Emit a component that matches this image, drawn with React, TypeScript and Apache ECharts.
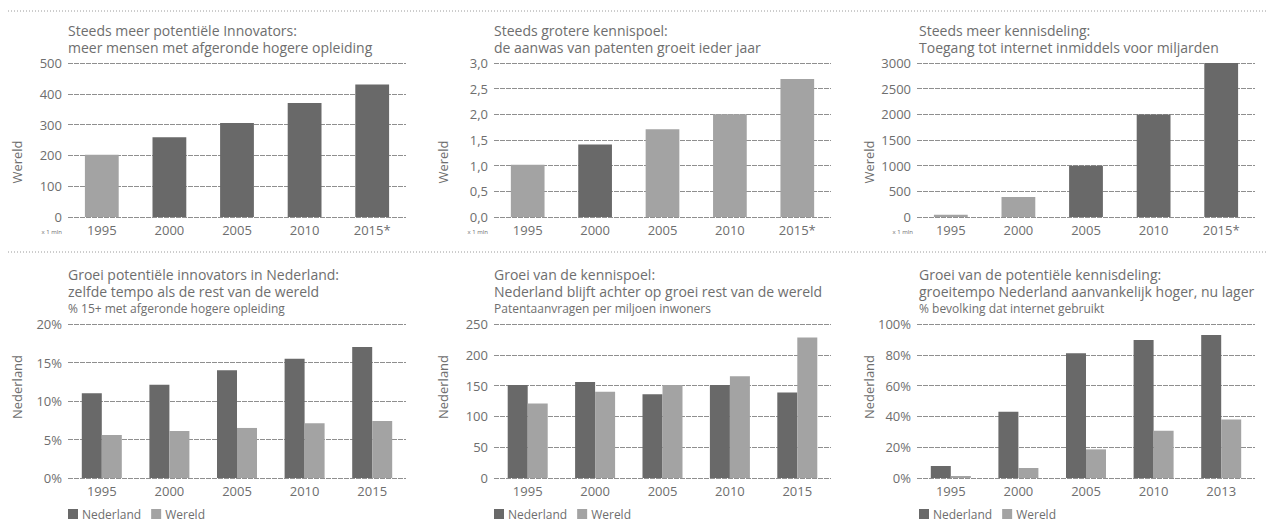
import React, { useEffect, useRef } from "react";
import * as echarts from "echarts";

// ---- data ----
const yearsTop = ["1995", "2000", "2005", "2010", "2015*"];
const yearsBottom = ["1995", "2000", "2005", "2010", "2015"];
const yearsInternet = ["1995", "2000", "2005", "2010", "2013"];

const innovatorsWorld = [202, 259, 305, 370, 430];
const patentsWorld = [1.02, 1.41, 1.71, 2.0, 2.69];
const internetWorld = [45, 390, 1000, 1995, 3000];

const eduNL = [11.0, 12.1, 14.0, 15.5, 17.0];
const eduWorld = [5.6, 6.1, 6.5, 7.1, 7.4];
const patNL = [151, 156, 136, 151, 139];
const patWorld = [121, 140, 151, 165, 228];
const netNL = [7.8, 43, 81, 89.6, 92.9];
const netWorld = [1.3, 6.5, 18.6, 30.7, 38];

const titlesTop = [
  "Steeds meer potentiële Innovators:\nmeer mensen met afgeronde hogere opleiding",
  "Steeds grotere kennispoel:\nde aanwas van patenten groeit ieder jaar",
  "Steeds meer kennisdeling:\nToegang tot internet inmiddels voor miljarden",
];
const titlesBottom = [
  "Groei potentiële innovators in Nederland:\nzelfde tempo als de rest van de wereld",
  "Groei van de kennispoel:\nNederland blijft achter op groei rest van de wereld",
  "Groei van de potentiële kennisdeling:\ngroeitempo Nederland aanvankelijk hoger, nu lager",
];
const subtitlesBottom = [
  "% 15+ met afgeronde hogere opleiding",
  "Patentaanvragen per miljoen inwoners",
  "% bevolking dat internet gebruikt",
];

const DARK = "#696969";
const LIGHT = "#a3a3a3";
const TEXT = "#6e6e6e";
const FONT = "'Open Sans', 'Noto Sans', sans-serif";

export default function App() {
  const ref = useRef<HTMLDivElement>(null);
  useEffect(() => {
    if (!ref.current) return;
    const chart = echarts.init(ref.current, undefined, { renderer: "svg" });

    const lefts = [68, 494, 917];
    const widths = [338, 337, 338];
    const topY = 63;
    const botY = 324;
    const h = 154;

    const grids: any[] = [];
    for (let r = 0; r < 2; r++) {
      for (let c = 0; c < 3; c++) {
        grids.push({ left: lefts[c], top: r === 0 ? topY : botY, width: widths[c], height: h, containLabel: false });
      }
    }

    const xCats = [yearsTop, yearsTop, yearsTop, yearsBottom, yearsBottom, yearsInternet];
    const xAxes = xCats.map((cats, i) => ({
      type: "category",
      gridIndex: i,
      data: cats,
      axisLine: { show: false },
      axisTick: { show: false },
      axisLabel: { color: TEXT, fontSize: 13, fontFamily: FONT, margin: 6 },
    }));

    const yDefs = [
      { max: 500, interval: 100, fmt: (v: number) => String(v) },
      { max: 3, interval: 0.5, fmt: (v: number) => v.toFixed(1).replace(".", ",") },
      { max: 3000, interval: 500, fmt: (v: number) => String(v) },
      { max: 20, interval: 5, fmt: (v: number) => v + "%" },
      { max: 250, interval: 50, fmt: (v: number) => String(v) },
      { max: 100, interval: 20, fmt: (v: number) => v + "%" },
    ];
    const yAxes = yDefs.map((d, i) => ({
      type: "value",
      gridIndex: i,
      min: 0,
      max: d.max,
      interval: d.interval,
      axisLine: { show: false },
      axisTick: { show: false },
      axisLabel: { color: TEXT, fontSize: 13, fontFamily: FONT, margin: 6, formatter: d.fmt },
      splitLine: { lineStyle: { color: "#8f8f8f", width: 1, type: [5, 1] } },
    }));

    const darkIdx = [[1, 2, 3, 4], [1], [2, 3, 4]];
    const topData = [innovatorsWorld, patentsWorld, internetWorld];
    const series: any[] = topData.map((vals, i) => ({
      type: "bar",
      name: "Wereld",
      xAxisIndex: i,
      yAxisIndex: i,
      barWidth: "50%",
      data: vals.map((v, j) => ({ value: v, itemStyle: { color: darkIdx[i].includes(j) ? DARK : LIGHT } })),
    }));
    const bottomPairs = [
      [eduNL, eduWorld],
      [patNL, patWorld],
      [netNL, netWorld],
    ];
    bottomPairs.forEach((pair, k) => {
      const idx = 3 + k;
      series.push({
        type: "bar",
        name: "Nederland",
        xAxisIndex: idx,
        yAxisIndex: idx,
        barWidth: 20,
        barGap: "0%",
        itemStyle: { color: DARK },
        data: pair[0],
      });
      series.push({
        type: "bar",
        name: "Wereld",
        xAxisIndex: idx,
        yAxisIndex: idx,
        barWidth: 20,
        barGap: "0%",
        itemStyle: { color: LIGHT },
        data: pair[1],
      });
    });

    const titleLefts = [68, 494, 919];
    const titles: any[] = [];
    titlesTop.forEach((t, i) => {
      titles.push({
        text: t,
        left: titleLefts[i],
        top: 22,
        padding: 0,
        textStyle: { fontSize: 14, fontWeight: "normal", color: TEXT, lineHeight: 17, fontFamily: FONT },
      });
    });
    titlesBottom.forEach((t, i) => {
      titles.push({
        text: t,
        subtext: subtitlesBottom[i],
        left: titleLefts[i],
        top: 266,
        padding: 0,
        itemGap: 1,
        textStyle: { fontSize: 14, fontWeight: "normal", color: TEXT, lineHeight: 17, fontFamily: FONT },
        subtextStyle: { fontSize: 12, color: TEXT, lineHeight: 14, fontFamily: FONT },
      });
    });

    const nameX = [17, 443, 869];
    const graphics: any[] = [];
    for (let r = 0; r < 2; r++) {
      for (let c = 0; c < 3; c++) {
        graphics.push({
          type: "text",
          x: nameX[c],
          y: r === 0 ? 162 : 387,
          rotation: Math.PI / 2,
          style: {
            text: r === 0 ? "Wereld" : "Nederland",
            font: `13px ${FONT}`,
            fill: TEXT,
            align: "center",
            verticalAlign: "middle",
          },
        });
      }
    }
    const mlnX = [62, 488, 913];
    mlnX.forEach((x) => {
      graphics.push({
        type: "text",
        x,
        y: 232,
        style: { text: "x 1 mln", font: `6px ${FONT}`, fill: TEXT, align: "right", verticalAlign: "middle" },
      });
    });
    [11, 252].forEach((y) => {
      graphics.push({
        type: "line",
        shape: { x1: 8, y1: y, x2: 1266, y2: y },
        style: { stroke: "#9a9a9a", lineWidth: 1, lineDash: [1, 2] },
      });
    });

    const legends = [68, 494, 919].map((l) => ({
      left: l,
      top: 508,
      padding: 0,
      itemWidth: 10,
      itemHeight: 10,
      itemGap: 10,
      icon: "rect",
      data: [
        { name: "Nederland", itemStyle: { color: DARK } },
        { name: "Wereld", itemStyle: { color: LIGHT } },
      ],
      textStyle: { color: TEXT, fontSize: 12, fontFamily: FONT, padding: [0, 0, 0, -1] },
      selectedMode: false,
    }));

    chart.setOption({
      animation: false,
      backgroundColor: "#ffffff",
      textStyle: { fontFamily: FONT },
      title: titles,
      legend: legends,
      grid: grids,
      xAxis: xAxes,
      yAxis: yAxes,
      series,
      graphic: graphics,
    });
    return () => chart.dispose();
  }, []);

  return <div ref={ref} style={{ position: "fixed", left: 0, top: 0, width: 1266, height: 521 }} />;
}
